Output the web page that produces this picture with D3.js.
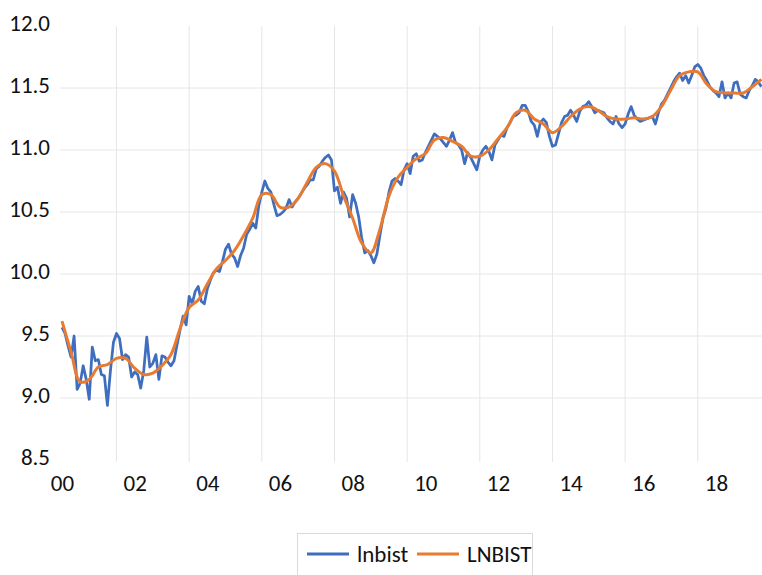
<!DOCTYPE html>
<html>
<head>
<meta charset="utf-8">
<script src="https://cdn.jsdelivr.net/npm/d3@7"></script>
<style>
  body { margin: 0; background: #fff; }
  text { font-family: Carlito, Lato, "Open Sans", sans-serif; fill: #111; }
</style>
</head>
<body>
<svg id="graphe" width="762" height="575"></svg>
<script>
// donnees mensuelles depuis janvier 2000
const debut = 2000

const lnbist = [
  9.57, 9.52, 9.42, 9.33, 9.50, 9.07, 9.12, 9.26, 9.15, 8.99, 9.41, 9.30,
  9.31, 9.19, 9.18, 8.94, 9.22, 9.45, 9.52, 9.48, 9.31, 9.35, 9.33, 9.17,
  9.21, 9.19, 9.08, 9.22, 9.49, 9.25, 9.28, 9.35, 9.15, 9.34, 9.33, 9.29,
  9.26, 9.30, 9.43, 9.55, 9.66, 9.59, 9.82, 9.76, 9.86, 9.90, 9.78, 9.76,
  9.88, 9.95, 10.01, 10.03, 10.02, 10.10, 10.20, 10.24, 10.16, 10.13, 10.06, 10.15,
  10.21, 10.32, 10.36, 10.41, 10.37, 10.55, 10.66, 10.75, 10.69, 10.66, 10.56, 10.47,
  10.48, 10.50, 10.53, 10.60, 10.54, 10.58, 10.61, 10.65, 10.69, 10.72, 10.76, 10.76,
  10.85, 10.87, 10.91, 10.94, 10.96, 10.92, 10.67, 10.70, 10.57, 10.66, 10.61, 10.46,
  10.64, 10.57, 10.46, 10.29, 10.17, 10.19, 10.15, 10.09, 10.16, 10.31, 10.45, 10.53,
  10.66, 10.75, 10.77, 10.75, 10.72, 10.84, 10.89, 10.81, 10.95, 10.97, 10.91, 10.92,
  10.98, 11.03, 11.08, 11.13, 11.11, 11.09, 11.06, 11.03, 11.08, 11.14, 11.06, 11.04,
  11.00, 10.89, 10.98, 10.94, 10.89, 10.84, 10.95, 11.00, 11.03, 10.99, 10.92, 11.04,
  11.08, 11.12, 11.11, 11.18, 11.22, 11.27, 11.28, 11.30, 11.36, 11.36, 11.31, 11.23,
  11.20, 11.11, 11.22, 11.25, 11.22, 11.11, 11.03, 11.04, 11.13, 11.22, 11.27, 11.28,
  11.32, 11.28, 11.23, 11.31, 11.35, 11.36, 11.39, 11.35, 11.30, 11.32, 11.31, 11.30,
  11.26, 11.23, 11.21, 11.27, 11.21, 11.18, 11.21, 11.29, 11.35, 11.28, 11.25, 11.23,
  11.24, 11.25, 11.26, 11.27, 11.21, 11.30, 11.37, 11.40, 11.45, 11.50, 11.55, 11.59,
  11.62, 11.56, 11.60, 11.54, 11.60, 11.67, 11.69, 11.66, 11.60, 11.56, 11.51, 11.48,
  11.46, 11.43, 11.55, 11.42, 11.46, 11.42, 11.54, 11.55, 11.45, 11.43, 11.42, 11.48,
  11.52, 11.57, 11.55, 11.51
]

// tendance lissee, un point par trimestre
const LNBIST = [
  9.62, 9.37, 9.13, 9.15, 9.25, 9.27, 9.32, 9.32, 9.24, 9.19,
  9.20, 9.26, 9.35, 9.56, 9.73, 9.79, 9.92, 10.04, 10.11, 10.19,
  10.31, 10.45, 10.64, 10.64, 10.54, 10.54, 10.61, 10.74, 10.86, 10.89,
  10.83, 10.63, 10.45, 10.25, 10.17, 10.36, 10.63, 10.78, 10.86, 10.93,
  10.97, 11.08, 11.10, 11.07, 11.03, 10.95, 10.95, 11.00, 11.09, 11.18,
  11.30, 11.32, 11.25, 11.21, 11.14, 11.19, 11.27, 11.33, 11.35, 11.32,
  11.27, 11.25, 11.25, 11.26, 11.25, 11.27, 11.35, 11.48, 11.60, 11.63,
  11.63, 11.53, 11.47, 11.46, 11.46, 11.46, 11.51, 11.57
]

const yTicks = [8.5, 9.0, 9.5, 10.0, 10.5, 11.0, 11.5, 12.0]
const xLabels = ["00", "02", "04", "06", "08", "10", "12", "14", "16", "18"]
const xGrid = [2001.5, 2003.5, 2005.5, 2007.5, 2009.5, 2011.5, 2013.5, 2015.5, 2017.5]
const series = ["lnbist", "LNBIST"]
const couleurs = ["#3F6EBF", "#E97B31"]

const svg = d3.select("#graphe")
const gauche = 60, haut = 26, bas = 460
const police = "Carlito, Lato, 'Open Sans', sans-serif"

var x = d3.scaleLinear().domain([2000, 2019.5]).range([62, 62 + 19.5 * 36.33])
var y = d3.scaleLinear().domain([8.5, 12]).range([bas, haut])

svg.append("clipPath").attr("id", "zone")
  .append("rect").attr("x", gauche).attr("y", 0).attr("width", 762 - gauche).attr("height", 575)

//------------------ grille ------------------
svg.append("g").selectAll("line").data(yTicks.filter(d => d > 8.5 && d < 12))
  .join("line")
  .attr("x1", gauche).attr("x2", 762)
  .attr("y1", d => y(d)).attr("y2", d => y(d))
  .attr("stroke", "#e6e6e6").attr("stroke-width", 1)

svg.append("g").selectAll("line").data(xGrid)
  .join("line")
  .attr("x1", d => x(d)).attr("x2", d => x(d))
  .attr("y1", haut).attr("y2", bas + 2)
  .attr("stroke", "#e6e6e6").attr("stroke-width", 1)

//------------------ axes ------------------
var axeY = d3.axisLeft(y).tickValues(yTicks).tickFormat(d3.format(".1f")).tickSize(0).tickPadding(10)
svg.append("g").attr("transform", "translate(" + gauche + ",0)").call(axeY)
  .call(g => g.select(".domain").remove())
  .selectAll("text")
  .attr("font-size", 23).attr("dy", "0.2em")
  .attr("font-family", police).attr("fill", "#111")

var axeX = d3.axisBottom(x)
  .tickValues(xLabels.map((d, i) => debut + i * 2))
  .tickFormat((d, i) => xLabels[i]).tickSize(0).tickPadding(0)
svg.append("g").attr("transform", "translate(0," + bas + ")").call(axeX)
  .call(g => g.select(".domain").remove())
  .selectAll("text")
  .attr("font-size", 23).attr("dy", "0").attr("y", 31)
  .attr("font-family", police).attr("fill", "#111")

//------------------ courbes ------------------
var ligne = d3.line()
  .x((d, i) => x(debut + i / 12))
  .y(d => y(d))

var tendance = d3.line()
  .x((d, i) => x(debut + i * 3 / 12))
  .y(d => y(d))
  .curve(d3.curveCatmullRom)

var courbes = svg.append("g").attr("clip-path", "url(#zone)")
courbes.append("path").datum(lnbist)
  .attr("d", ligne)
  .attr("fill", "none").attr("stroke", couleurs[0]).attr("stroke-width", 2.75)
  .attr("stroke-linejoin", "round")
courbes.append("path").datum(LNBIST)
  .attr("d", tendance)
  .attr("fill", "none").attr("stroke", couleurs[1]).attr("stroke-width", 3)
  .attr("stroke-linejoin", "round")

//------------------ legende ------------------
var leg = svg.append("g")
leg.append("rect").attr("x", 297.5).attr("y", 533.5).attr("width", 235).attr("height", 60)
  .attr("fill", "#fff").attr("stroke", "#d9d9d9")
var posLeg = [307, 417]
series.forEach(function (s, i) {
  leg.append("line")
    .attr("x1", posLeg[i]).attr("x2", posLeg[i] + 42)
    .attr("y1", 554).attr("y2", 554)
    .attr("stroke", couleurs[i]).attr("stroke-width", 3)
  leg.append("text")
    .attr("x", posLeg[i] + 50).attr("y", 562)
    .attr("font-size", 23)
    .text(s)
})
</script>
</body>
</html>
